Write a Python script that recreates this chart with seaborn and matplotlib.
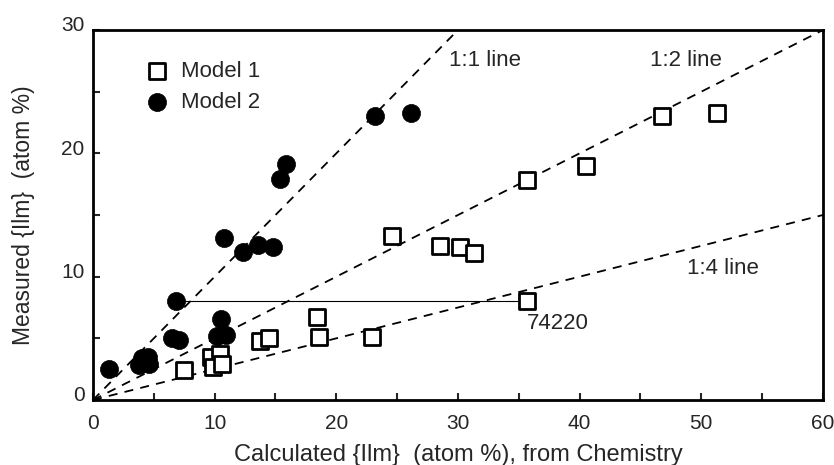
import numpy as np
import pandas as pd
import matplotlib
matplotlib.use('Agg')
import matplotlib.pyplot as plt
import matplotlib.transforms as mtransforms
import seaborn as sns

# Model 1 (open squares): calculated vs measured {Ilm}
m1_calc = [7.5, 9.7, 10.4, 9.9, 10.6, 13.7, 14.5, 18.4, 18.6, 22.9,
           24.6, 28.5, 30.2, 31.3, 35.7, 35.7, 40.5, 46.8, 51.3]
m1_meas = [2.4, 3.5, 3.7, 2.7, 2.9, 4.8, 5.0, 6.7, 5.1, 5.1,
           13.3, 12.5, 12.4, 11.9, 17.8, 8.0, 19.0, 23.0, 23.3]

# Model 2 (filled circles)
m2_calc = [1.3, 3.8, 4.0, 4.5, 4.6, 6.5, 7.1, 6.8, 10.5, 10.2, 10.9,
           10.8, 12.3, 13.6, 14.8, 15.4, 15.9, 23.2, 26.1]
m2_meas = [2.5, 2.8, 3.4, 3.5, 2.9, 5.0, 4.9, 8.0, 6.6, 5.2, 5.3,
           13.1, 12.0, 12.6, 12.4, 17.9, 19.1, 23.0, 23.3]

# reference lines (slopes) and labels
ratios = [1, 2, 4]
ratio_labels = ['1:1 line', '1:2 line', '1:4 line']

# sample 74220 tie line (model 2 -> model 1)
tie_x = [6.8, 35.7]
tie_y = [8.0, 8.0]

df1 = pd.DataFrame({'calc': m1_calc, 'meas': m1_meas})
df2 = pd.DataFrame({'calc': m2_calc, 'meas': m2_meas})

sns.set_style('white')
plt.rcParams['font.family'] = ['Liberation Sans', 'DejaVu Sans']

fig = plt.figure(figsize=(8.34, 4.65), dpi=100)
ax = fig.add_axes([0.1115, 0.1398, 0.8753, 0.7957])

# dashed reference lines
xs = np.array([0.0, 60.0])
for r in ratios:
    ax.plot(xs, xs / r, color='black', linestyle=(0, (5, 4)), linewidth=1.3, zorder=1)

ax.plot(tie_x, tie_y, color='black', linewidth=0.8, zorder=1)

sns.scatterplot(data=df1, x='calc', y='meas', ax=ax, marker='s', s=125,
                facecolor='white', edgecolor='black', linewidth=2, label='Model 1', zorder=3)
sns.scatterplot(data=df2, x='calc', y='meas', ax=ax, marker='o', s=170,
                color='black', edgecolor='black', linewidth=0.5, label='Model 2', zorder=4)

ax.text(29.3, 27.5, ratio_labels[0], fontsize=16, va='center', ha='left')
ax.text(45.8, 27.5, ratio_labels[1], fontsize=16, va='center', ha='left')
ax.text(48.8, 10.7, ratio_labels[2], fontsize=16, va='center', ha='left')
ax.text(35.7, 6.2, '74220', fontsize=16, va='center', ha='left')

ax.set_xlim(0, 60)
ax.set_ylim(0, 30)
ax.set_xticks(np.arange(0, 61, 5))
ax.set_xticklabels(['0', '', '10', '', '20', '', '30', '', '40', '', '50', '', '60'])
ax.set_yticks(np.arange(0, 31, 5))
ax.set_yticklabels(['0', '', '10', '', '20', '', '30'])
ax.tick_params(axis='both', direction='in', length=5, width=1.5, labelsize=15,
               bottom=True, left=True, top=False, right=False, pad=6)
ax.tick_params(axis='x', pad=10)

# y tick labels sit a little above their ticks in the original
shift = mtransforms.ScaledTranslation(0, 6 / 100, fig.dpi_scale_trans)
for lab in ax.get_yticklabels():
    lab.set_transform(lab.get_transform() + shift)

for sp in ax.spines.values():
    sp.set_linewidth(2)
    sp.set_color('black')

ax.set_xlabel('Calculated {Ilm}  (atom %), from Chemistry', fontsize=17, labelpad=8)
ax.set_ylabel('Measured {Ilm}  (atom %)', fontsize=16.5, labelpad=19)

leg = ax.legend(loc='upper left', bbox_to_anchor=(0.045, 0.94), frameon=False,
                fontsize=16, handletextpad=0.1, labelspacing=0.45, borderaxespad=0)

fig.savefig('out.png', dpi=100)
